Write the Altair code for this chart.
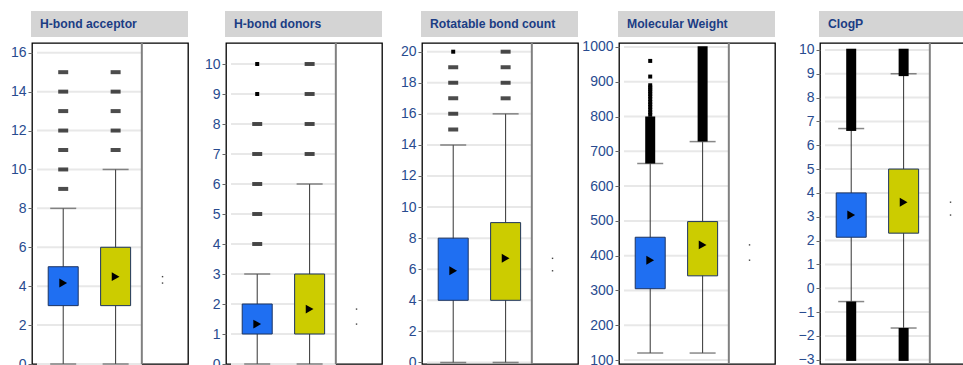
import altair as alt
import pandas as pd

# ---- data -------------------------------------------------------------
titles = ["H-bond acceptor", "H-bond donors", "Rotatable bond count",
          "Molecular Weight", "ClogP"]
groups = ["group 1", "group 2"]
group_colors = ["#1f6ff2", "#cccc00"]

whisker_low = [[0, 0], [0, 0], [0, 0], [120, 120], [-0.56, -1.67]]
q1 = [[3, 3], [1, 1], [4, 4], [305, 342], [2.14, 2.31]]
q3 = [[5, 6], [2, 3], [8, 9], [453, 498], [4.0, 5.0]]
whisker_high = [[8, 10], [3, 6], [14, 16], [665, 728], [6.7, 9.0]]
means = [[4.16, 4.49], [1.33, 1.83], [5.9, 6.7], [387, 431], [3.07, 3.61]]

# outlier values shared by many compounds
outliers = [
    [[9, 10, 11, 12, 13, 14, 15], [11, 12, 13, 14, 15]],
    [[4, 5, 6, 7, 8], [7, 8, 9, 10]],
    [[15, 16, 17, 18, 19], [17, 18, 19, 20]],
    [[], []],
    [[], []],
]
# outlier values seen only a few times
rare_outliers = [
    [[], []],
    [[9, 10], []],
    [[20], []],
    [[805, 812, 820, 828, 835, 842, 850, 858, 865, 872, 878, 884, 890, 915, 960], []],
    [[], []],
]
# continuous runs of outliers (low, high)
outlier_spans = [
    [[], []],
    [[], []],
    [[], []],
    [[(665, 800)], [(728, 1002)]],
    [[(6.6, 10.05), (-3.05, -0.56)], [(8.9, 10.05), (-3.05, -1.67)]],
]

y_domains = [[0, 16.5], [0, 10.7], [-0.1, 20.56], [88.5, 1011.5], [-3.18, 10.29]]
y_ticks = [list(range(0, 17, 2)), list(range(0, 11)), list(range(0, 21, 2)),
           list(range(100, 1001, 100)), list(range(-3, 11))]

# ---- layout -----------------------------------------------------------
W, H = 156, 321
X_MAX = 5.571          # boxes at 1 and 3, divider at 4, summary column beyond
DIVIDER = 4
SUMMARY_X = 4.79
left_reserve = [31.5, 36, 38, 39, 43]
CANVAS_W, CANVAS_H = 963, 365
ORIGIN_X, ORIGIN_Y = 32, 43   # top-left corner of the first plot frame

LABEL_BLUE = "#284b8f"
FONT = "Liberation Sans"


def panel(i):
    ydom = y_domains[i]
    axis = alt.Axis(values=y_ticks[i], format="d", grid=False, domain=False,
                    tickSize=4, tickColor="#666666", tickWidth=1,
                    labelColor=LABEL_BLUE, labelFont=FONT, labelFontSize=14,
                    labelPadding=2, labelFlush=False, labelOverlap=False, title=None)
    yscale = alt.Scale(domain=ydom, nice=False, zero=False)
    xscale = alt.Scale(domain=[0, X_MAX], nice=False, zero=False)

    def Y(f):
        return alt.Y(f, type="quantitative", scale=yscale, axis=axis)

    def X(f):
        return alt.X(f, type="quantitative", scale=xscale, axis=None)

    stats = pd.DataFrame({
        "group": groups,
        "pos": [2 * k + 1 for k in range(len(groups))],
        "lo": whisker_low[i], "q1": q1[i], "q3": q3[i],
        "hi": whisker_high[i], "mean": means[i],
    })
    stats["summary_x"] = SUMMARY_X
    caps = pd.concat([
        stats[["pos"]].assign(v=stats["lo"]),
        stats[["pos"]].assign(v=stats["hi"]),
    ])
    grid = pd.DataFrame({"v": y_ticks[i], "x0": 0, "x1": DIVIDER})
    one = pd.DataFrame({"x": [DIVIDER]})

    layers = [
        # invisible spacer fixing the panel's left extent
        alt.Chart(one).mark_rule(opacity=0).encode(
            x=alt.value(-left_reserve[i]), y=alt.value(0), y2=alt.value(1)),
        alt.Chart(one).mark_rect(color="#d4d4d4").encode(
            x=alt.value(-1), x2=alt.value(W), y=alt.value(-32), y2=alt.value(-6)),
        alt.Chart(pd.DataFrame({"t": [titles[i]]})).mark_text(
            align="left", baseline="middle", font=FONT, fontSize=12.2,
            fontWeight="bold", color="#1b3d84").encode(
            x=alt.value(8), y=alt.value(-19), text="t:N"),
        alt.Chart(grid).mark_rule(color="#e8e8e8", strokeWidth=2).encode(
            x=X("x0"), x2="x1", y=Y("v")),
        alt.Chart(stats).mark_rule(color="#333333", strokeWidth=1).encode(
            x=X("pos"), y=Y("lo"), y2="hi"),
        alt.Chart(caps).mark_tick(orient="horizontal", size=26, thickness=1.5,
                                  color="#555555").encode(x=X("pos"), y=Y("v")),
        alt.Chart(stats).mark_bar(width=30, stroke="#1d3461", strokeWidth=1).encode(
            x=X("pos"), y=Y("q1"), y2="q3",
            color=alt.Color("group:N", scale=alt.Scale(domain=groups, range=group_colors),
                            legend=None)),
        alt.Chart(stats).mark_point(shape="triangle-right", filled=True, size=80,
                                    color="black", opacity=1).encode(
            x=X("pos"), y=Y("mean")),
        alt.Chart(stats).mark_square(size=2, color="#444444", opacity=1).encode(
            x=X("summary_x"), y=Y("mean")),
    ]

    dash_rows = [(2 * k + 1, v) for k in range(len(groups)) for v in outliers[i][k]]
    if dash_rows:
        d = pd.DataFrame(dash_rows, columns=["pos", "v"])
        layers.append(alt.Chart(d).mark_tick(orient="horizontal", size=10, thickness=4,
                                             color="black").encode(x=X("pos"), y=Y("v")))
    rare_rows = [(2 * k + 1, v) for k in range(len(groups)) for v in rare_outliers[i][k]]
    if rare_rows:
        d = pd.DataFrame(rare_rows, columns=["pos", "v"])
        layers.append(alt.Chart(d).mark_square(size=16, color="black", opacity=1).encode(
            x=X("pos"), y=Y("v")))
    span_rows = [(2 * k + 1, a, b) for k in range(len(groups)) for a, b in outlier_spans[i][k]]
    if span_rows:
        d = pd.DataFrame(span_rows, columns=["pos", "a", "b"])
        layers.append(alt.Chart(d).mark_bar(width=10, color="black").encode(
            x=X("pos"), y=Y("a"), y2="b"))

    layers.append(alt.Chart(one).mark_rule(color="#808080", strokeWidth=2).encode(
        x=X("x"), y=alt.value(0), y2=alt.value(H)))

    return alt.layer(*layers).properties(width=W, height=H)


# fixed-size canvas: panels run past the right and bottom edges and are cut there
chart = alt.hconcat(*[panel(i) for i in range(len(titles))], spacing=0).properties(
    autosize=alt.AutoSizeParams(type="none"),
    padding={"left": ORIGIN_X, "top": ORIGIN_Y,
             "right": CANVAS_W - ORIGIN_X, "bottom": CANVAS_H - ORIGIN_Y},
    background="white",
).configure_view(stroke="black", strokeWidth=1.3)

chart.save("out.html", embed_options={"renderer": "svg", "actions": False})
